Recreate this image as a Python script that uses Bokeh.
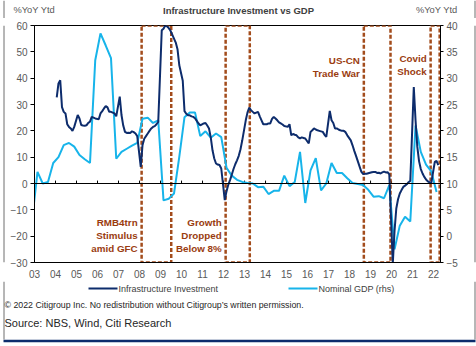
from bokeh.plotting import figure
from bokeh.layouts import column, row
from bokeh.models import (Range1d, LinearAxis, FixedTicker, Span, Label)
from bokeh.embed import file_html
from bokeh.resources import INLINE

# ---------------- data ----------------
# Infrastructure investment, %YoY ytd (left axis); monthly Feb..Dec (Jan-Feb combined)
infra_years = list(range(2004, 2022))
infra_2004 = [32.7, 38.0, 39.2, 29.0, 27.2, 26.6, 22.5, 21.5, 20.9, 20.0, 21.5]
infra_2005 = [26.0, 24.7, 22.2, 22.0, 21.9, 22.1, 23.0, 23.5, 25.3, 25.0, 24.7]
infra_2006 = [24.4, 26.6, 27.5, 28.5, 29.4, 28.9, 27.2, 27.2, 26.9, 26.6, 25.5]
infra_2007 = [33.0, 26.0, 22.0, 19.6, 19.2, 19.3, 19.2, 19.8, 19.5, 19.0, 18.0]
infra_2008 = [6.3, 14.5, 17.0, 18.0, 19.0, 20.0, 20.9, 21.5, 21.8, 22.5, 23.4]
infra_2009 = [58.2, 58.8, 60.0, 59.7, 59.0, 58.0, 56.5, 55.0, 53.5, 51.0, 45.0]
infra_2010 = [39.0, 27.5, 26.5, 25.9, 25.9, 25.5, 25.3, 24.8, 23.8, 22.8, 22.1]
infra_2011 = [22.8, 23.0, 22.0, 20.9, 17.5, 12.6, 9.5, 7.6, 7.2, 7.0, 5.7]
infra_2012 = [-6.3, -3.0, -0.5, 1.3, 3.3, 5.5, 7.3, 8.8, 10.5, 13.0, 16.4]
infra_2013 = [24.0, 27.0, 28.8, 27.8, 27.2, 26.6, 26.9, 27.2, 25.5, 24.0, 22.5]
infra_2014 = [22.5, 22.8, 22.8, 24.5, 25.3, 24.7, 24.0, 23.2, 22.8, 22.4, 21.8]
infra_2015 = [21.5, 22.5, 18.3, 18.8, 18.5, 18.3, 17.5, 17.1, 17.5, 17.3, 17.1]
infra_2016 = [15.2, 19.6, 20.2, 20.9, 20.5, 20.2, 20.0, 19.8, 19.6, 18.5, 17.7]
infra_2017 = [27.6, 24.0, 23.0, 20.9, 20.9, 20.5, 20.2, 20.0, 20.0, 19.5, 18.3]
infra_2018 = [16.4, 14.5, 12.4, 10.5, 8.5, 6.5, 4.5, 3.6, 3.7, 3.7, 3.9]
infra_2019 = [4.3, 4.4, 4.4, 4.0, 4.1, 3.8, 4.2, 4.5, 4.2, 4.3, 3.5]
infra_2020 = [-30.3, -18.0, -9.5, -6.0, -3.8, -2.5, -1.3, -0.8, -0.3, 0.5, 1.0]
infra_2021 = [36.6, 24.0, 14.0, 8.5, 5.5, 3.8, 2.5, 1.5, 0.8, 0.4, 0.2]
infra_2022 = [8.2, 8.6, 7.0]          # Feb..Apr 2022

# Nominal GDP, %YoY ytd (right axis); quarterly, from Q4 2002 to Q1 2022
gdp_start_year, gdp_start_q = 2002, 4
gdp_yoy = [3.2,
           12.2, 10.0, 10.3, 13.9,
           15.0, 17.3, 17.7, 17.0,
           15.4, 14.6, 13.9, 33.4,
           38.5, 36.2, 33.8, 14.7,
           16.0, 16.6, 17.2, 17.7,
           22.3, 22.5, 21.5, 22.0,
           6.8, 7.1, 8.1, 15.0,
           22.6, 23.5, 23.5, 19.0,
           19.9, 18.7, 19.5, 18.8,
           13.0, 11.5, 10.7, 10.3,
           10.1, 10.0, 9.3, 9.4,
           8.0, 8.6, 8.6, 11.5,
           9.5, 10.3, 16.0, 6.3,
           12.5, 14.8, 8.7, 10.0,
           13.9, 12.0, 12.0, 11.0,
           10.1, 9.9, 9.7, 8.8,
           7.5, 7.6, 7.2, 9.7,
           -2.5, 2.0, 3.7, 2.8,
           21.0, 16.0, 13.6, 12.3,
           8.4]

# x-axis tick labels
tick_years = list(range(2003, 2023))
tick_labels = ["03", "04", "05", "06", "07", "08", "09", "10", "11", "12",
               "13", "14", "15", "16", "17", "18", "19", "20", "21", "22"]
left_ticks = [-30, -20, -10, 0, 10, 20, 30, 40, 50, 60]
right_ticks = [-5, 0, 5, 10, 15, 20, 25, 30, 35, 40]

# event windows
event_start = [2008.1, 2012.1, 2018.68, 2021.86]
event_end = [2009.51, 2013.25, 2019.95, 2022.29]
event_text = [["RMB4trn", "Stimulus", "amid GFC"],
              ["Growth", "Dropped", "Below 8%"],
              ["US-CN", "Trade War"],
              ["Covid", "Shock"]]
event_text_y = [-14.7, -14.7, 46.8, 47.5]

series_names = ["Infrastructure Investment", "Nominal GDP (rhs)"]

# ---------------- x positions (month placed at (m-1.3)/12) ----------------
def month_pos(year, month):
    return year + (month - 1.3) / 12.0

infra_all = [infra_2004, infra_2005, infra_2006, infra_2007, infra_2008, infra_2009,
             infra_2010, infra_2011, infra_2012, infra_2013, infra_2014, infra_2015,
             infra_2016, infra_2017, infra_2018, infra_2019, infra_2020, infra_2021]
infra_x, infra_y = [], []
for yr, vals in zip(infra_years, infra_all):
    for k, v in enumerate(vals):
        infra_x.append(month_pos(yr, k + 2))
        infra_y.append(v)
for k, v in enumerate(infra_2022):
    infra_x.append(month_pos(2022, k + 2))
    infra_y.append(v)

gdp_x = []
yr, q = gdp_start_year, gdp_start_q
for _ in gdp_yoy:
    gdp_x.append(month_pos(yr, q * 3))
    q += 1
    if q > 4:
        q = 1
        yr += 1

# ---------------- styling ----------------
FONT = "Liberation Sans"
DARK = "#0D2C6C"
LIGHT = "#17B4EA"
BROWN = "#A34C1C"
BROWN_TXT = "#9A3C10"
GREY_TXT = "#595959"
BORDER = "#6E6E6E"
W = 476
TOP_H, MAIN_H, BOT_H = 18, 263, 65


def blank_fig(w, h):
    f = figure(width=w, height=h, output_backend="svg", toolbar_location=None,
               x_range=Range1d(0, w), y_range=Range1d(h, 0),
               x_axis_type=None, y_axis_type=None, min_border=0,
               background_fill_color="white", border_fill_color="white")
    f.grid.visible = False
    f.outline_line_color = None
    return f


def txt(f, text, x, y, size="9px", color=GREY_TXT, align="left", style="normal"):
    f.add_layout(Label(x=x, y=y, text=text, text_font=FONT, text_font_size=size,
                       text_color=color, text_align=align, text_baseline="middle",
                       text_font_style=style))


# ---------------- top strip: titles ----------------
ft = blank_fig(W, TOP_H)
ft.add_layout(Span(location=3.5, dimension="height", line_color=BORDER, line_width=1))
ft.add_layout(Span(location=474.5, dimension="height", line_color=BORDER, line_width=1))
txt(ft, "%YoY Ytd", 13, 9.5, size="9.3px")
txt(ft, "%YoY Ytd", 457, 9.5, size="9.3px", align="right")
txt(ft, "Infrastructure Investment vs GDP", 238, 9.5, size="9.5px",
    color="#404040", align="center", style="bold")

# ---------------- main chart ----------------
p = figure(width=467, height=MAIN_H, output_backend="svg", toolbar_location=None,
           x_range=Range1d(2003.0, 2022.33), y_range=Range1d(-30, 60),
           min_border_left=29, min_border_right=32, min_border_top=7,
           min_border_bottom=19, background_fill_color="white",
           border_fill_color="white")
p.xgrid.visible = False
p.ygrid.visible = False
p.outline_line_color = "black"
p.outline_line_width = 1
p.extra_y_ranges = {"rhs": Range1d(-5, 40)}

xa = p.xaxis[0]
xa.ticker = FixedTicker(ticks=tick_years)
xa.major_label_overrides = {y: l for y, l in zip(tick_years, tick_labels)}
xa.major_tick_out = 0
xa.major_tick_in = 0
xa.minor_tick_out = 0
xa.minor_tick_in = 0
xa.axis_line_color = "black"
xa.major_label_standoff = 7
xa.major_label_text_font = FONT
xa.major_label_text_font_size = "10px"
xa.major_label_text_color = GREY_TXT

ya = p.yaxis[0]
ya.ticker = FixedTicker(ticks=left_ticks)
ya.major_tick_out = 4
ya.major_tick_in = 0
ya.minor_tick_out = 0
ya.minor_tick_in = 0
ya.axis_line_color = "black"
ya.major_label_standoff = 3
ya.major_label_text_font = FONT
ya.major_label_text_font_size = "10px"
ya.major_label_text_color = GREY_TXT

ra = LinearAxis(y_range_name="rhs", ticker=FixedTicker(ticks=right_ticks))
ra.major_tick_out = 3
ra.major_tick_in = 0
ra.minor_tick_out = 0
ra.minor_tick_in = 0
ra.axis_line_color = "black"
ra.major_label_standoff = 3
ra.major_label_text_font = FONT
ra.major_label_text_font_size = "10px"
ra.major_label_text_color = GREY_TXT
p.add_layout(ra, "right")

# zero line with small year ticks
p.add_layout(Span(location=0, dimension="width", line_color="black", line_width=1))
p.segment(x0=tick_years, y0=[0] * len(tick_years), x1=tick_years,
          y1=[1.1] * len(tick_years), line_color="black", line_width=1)

# event boxes
p.quad(left=event_start, right=event_end, top=[60] * len(event_start),
       bottom=[-30] * len(event_start), fill_alpha=0, line_color=BROWN,
       line_width=2.5, line_dash="4 2")

# series
r_gdp = p.line(gdp_x, gdp_yoy, y_range_name="rhs", line_color=LIGHT, line_width=2)
r_inf = p.line(infra_x, infra_y, line_color=DARK, line_width=2)

# event labels
for xs, lines, yv in zip(event_start, event_text, event_text_y):
    for i, t in enumerate(lines):
        p.add_layout(Label(x=xs, y=yv, x_offset=-4, y_offset=-13 * i, text=t,
                           text_align="right", text_baseline="middle",
                           text_font=FONT, text_font_size="9.8px",
                           text_font_style="bold", text_color=BROWN_TXT))

# side strips carrying the outer border lines
fl = blank_fig(5, MAIN_H)
fl.add_layout(Span(location=3.5, dimension="height", line_color=BORDER, line_width=1))
fr = blank_fig(4, MAIN_H)
fr.add_layout(Span(location=2.5, dimension="height", line_color=BORDER, line_width=1))

# ---------------- bottom strip: legend + footer ----------------
fb = blank_fig(W, BOT_H)
fb.segment(x0=[3.5, 474.5], y0=[0, 0], x1=[3.5, 474.5], y1=[58, 58],
           line_color=BORDER, line_width=1)
fb.segment(x0=[3], y0=[59.5], x1=[475], y1=[59.5], line_color=DARK, line_width=2.5)
for name, col, x0 in zip(series_names, [DARK, LIGHT], [88, 288]):
    fb.segment(x0=[x0], y0=[7], x1=[x0 + 29], y1=[7], line_color=col, line_width=2)
    txt(fb, name, x0 + 30, 7.5, color="#404040")
txt(fb, "\u00a9 2022 Citigroup Inc. No redistribution without Citigroup\u2019s written permission.",
    4, 23.5, size="8.8px", color="#262626")
txt(fb, "Source: NBS, Wind, Citi Research", 4, 41.5, size="11px", color="#262626")

layout = column(ft, row(fl, p, fr, spacing=0), fb, spacing=0)
open("out.html", "w").write(file_html(layout, INLINE))
